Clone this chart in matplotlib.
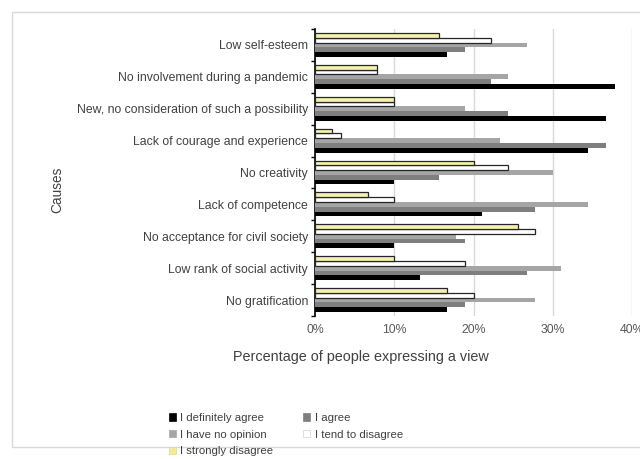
import matplotlib
matplotlib.use("Agg")
import matplotlib.pyplot as plt
import numpy as np
from matplotlib.patches import Rectangle, Patch

plt.rcParams['font.family'] = ['Liberation Sans', 'DejaVu Sans']

# Categories listed bottom -> top (as drawn)
categories = [
    "No gratification",
    "Low rank of social activity",
    "No acceptance for civil society",
    "Lack of competence",
    "No creativity",
    "Lack of courage and experience",
    "New, no consideration of such a possibility",
    "No involvement during a pandemic",
    "Low self-esteem",
]

definitely_agree = [16.7, 13.3, 10.0, 21.1, 10.0, 34.4, 36.7, 37.8, 16.7]
agree            = [18.9, 26.7, 18.9, 27.8, 15.6, 36.7, 24.4, 22.2, 18.9]
no_opinion       = [27.8, 31.1, 17.8, 34.4, 30.0, 23.3, 18.9, 24.4, 26.7]
tend_disagree    = [20.0, 18.9, 27.8, 10.0, 24.4, 3.3, 10.0, 7.8, 22.2]
strongly_disagree= [16.7, 10.0, 25.6, 6.7, 20.0, 2.2, 10.0, 7.8, 15.6]

series_names = ["I definitely agree", "I agree", "I have no opinion",
                "I tend to disagree", "I strongly disagree"]
series = [definitely_agree, agree, no_opinion, tend_disagree, strongly_disagree]
colors = ["#000000", "#7f7f7f", "#a5a5a5", "#ffffff", "#f5f0b0"]
edges = ["#000000", "#7f7f7f", "#a5a5a5", "#262626", "#262626"]
lws = [0, 0, 0, 0.9, 0.9]

xticks = [0, 10, 20, 30, 40]
xticklabels = ["0%", "10%", "20%", "30%", "40%"]

W, H = 640, 459
fig = plt.figure(figsize=(6.4, 4.59), dpi=100)

# chart border
fig.patches.append(Rectangle((12 / W, 1 - 447 / H), (700 - 12) / W, (447 - 12) / H,
                             transform=fig.transFigure, fill=False,
                             edgecolor="#d9d9d9", linewidth=1.0))

ax = fig.add_axes([315 / W, 1 - 316 / H, (632 - 315) / W, (316 - 29) / H])

n = len(categories)
y = np.arange(n)
h = 0.15
for i, (vals, c, ec, lw) in enumerate(zip(series, colors, edges, lws)):
    offs = (i - 2) * h
    ax.barh(y + offs, vals, height=h, color=c, edgecolor=ec, linewidth=lw,
            zorder=3, label=series_names[i])

ax.set_xlim(0, 40)
ax.set_ylim(-0.5, n - 0.5)
ax.set_xticks(xticks)
ax.set_xticklabels(xticklabels)
ax.set_yticks(y)
ax.set_yticklabels(categories)
ax.set_yticks(np.arange(-0.5, n, 1.0), minor=True)
ax.tick_params(axis='y', which='major', length=0, pad=5, labelsize=8.8, labelcolor="#404040")
ax.tick_params(axis='y', which='minor', length=3, width=1, color="#000000", direction='out')
ax.tick_params(axis='x', length=0, pad=6, labelsize=8.8, labelcolor="#595959")
ax.grid(axis='x', color="#d9d9d9", linewidth=1.0, zorder=0)
for s in ["top", "right", "bottom"]:
    ax.spines[s].set_visible(False)
ax.spines["left"].set_color("#000000")
ax.spines["left"].set_linewidth(1.2)

fig.text(361 / W, 1 - 357 / H, "Percentage of people expressing a view",
         ha="center", va="center", fontsize=10.4, color="#404040")
fig.text(57 / W, 1 - 190 / H, "Causes", ha="center", va="center",
         rotation=90, fontsize=9.8, color="#404040")

handles = [Patch(facecolor=c, edgecolor=(ec if i < 3 else "#d0d0d0"), linewidth=0.5)
           for i, (c, ec) in enumerate(zip(colors, edges))]
handles[4] = Patch(facecolor="#f5e9a0", edgecolor="#e0d890", linewidth=0.5)
order = [0, 2, 4, 1, 3]
leg = fig.legend([handles[k] for k in order], [series_names[k] for k in order],
                 ncol=2, loc="upper left", bbox_to_anchor=(169 / W, 1 - 413 / H),
                 frameon=False, fontsize=8.2, handlelength=0.6, handleheight=0.6,
                 handletextpad=0.4, columnspacing=2.6, labelspacing=0.58,
                 borderpad=0, borderaxespad=0)
for t in leg.get_texts():
    t.set_color("#404040")

fig.savefig("out.png", dpi=100)
